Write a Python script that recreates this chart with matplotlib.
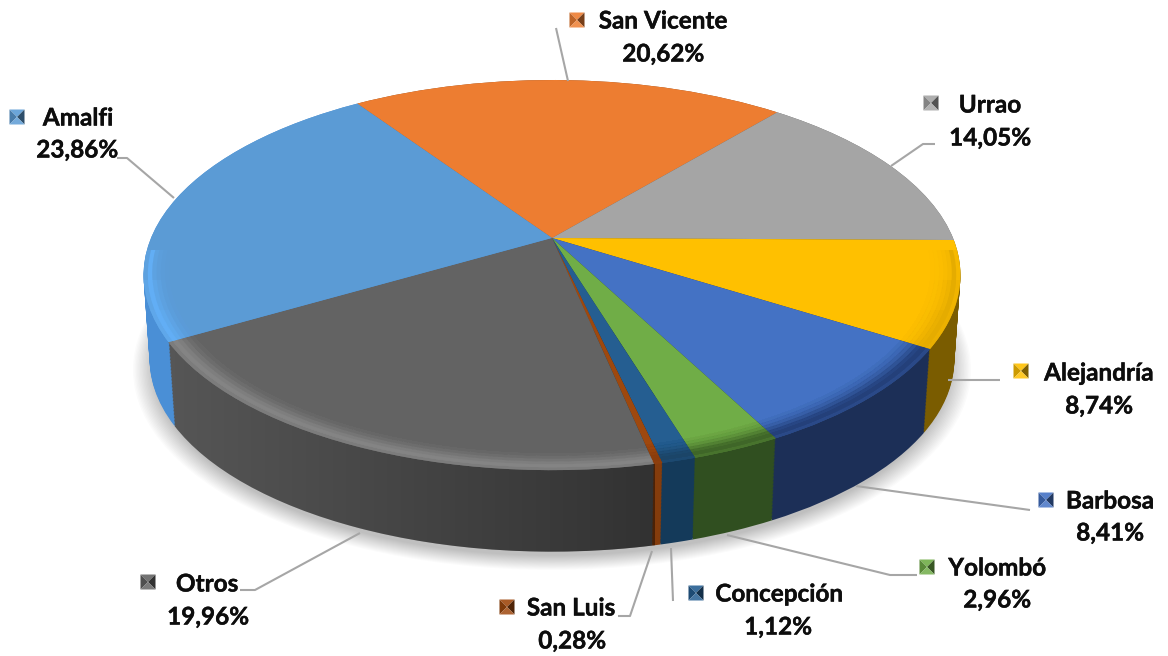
import matplotlib
matplotlib.use('Agg')
import matplotlib.pyplot as plt
import matplotlib.patheffects as pe
from matplotlib.patches import Circle, Polygon
from matplotlib.transforms import Transform, Bbox
from matplotlib.colors import to_rgb
import numpy as np

# Data, clockwise from the top
names = ['San Vicente', 'Urrao', 'Alejandría', 'Barbosa', 'Yolombó',
         'Concepción', 'San Luis', 'Otros', 'Amalfi']
values = [20.62, 14.05, 8.74, 8.41, 2.96, 1.12, 0.28, 19.96, 23.86]
labels = ['20,62%', '14,05%', '8,74%', '8,41%', '2,96%', '1,12%', '0,28%', '19,96%', '23,86%']

face_colors = ['#ED7D31', '#A5A5A5', '#FFC000', '#4472C4', '#70AD47',
               '#255E91', '#9E480E', '#636363', '#5B9BD5']
side_colors = ['#8C4A1D', '#666666', '#7A5C00', '#1C2F57', '#304F20',
               '#143A5A', '#843C0C', '#565656', '#4A8FD6']
rim_colors = ['#F29A5C', '#8A8A8A', '#E5AC00', '#24407A', '#3F6628',
              '#1B4568', '#8A3D0C', '#848484', '#62AEF5']

# Name text centre, percent text centre, legend key centre
name_pos = [(663, 21), (990, 105), (1099, 373), (1110, 501), (997, 568),
            (779, 594), (571, 608), (207, 584), (78, 118)]
pct_pos = [(663, 54), (990, 138), (1099, 406), (1110, 533), (997, 600),
           (778, 627), (572, 641), (208, 617), (77, 150)]
key_pos = [(577, 20), (931, 103), (1021, 371), (1046, 500), (927, 567),
           (696, 593), (507, 607), (148, 582), (17, 117)]
leaders = [
    [(556, 28), (568, 81)],
    [(935, 144), (923, 144), (891, 166)],
    [(1000, 380), (948, 380)],
    [(1030, 510), (856, 486)],
    [(917, 575), (890, 575), (727, 535)],
    [(673, 601), (671, 548)],
    [(618, 616), (630, 616), (652, 551)],
    [(240, 590), (255, 590), (360, 533)],
    [(117, 158), (127, 158), (174, 198)],
]

START = 124.2


class Tilt(Transform):
    # unit disc to pixels, with a bit of perspective
    input_dims = 2
    output_dims = 2

    def __init__(self, cy=238.0, s=1.0):
        super().__init__()
        self.cy = cy
        self.s = s

    def transform_non_affine(self, xy):
        xy = np.asarray(xy, dtype=float)
        w = 1 + 0.19 * xy[:, 1]
        return np.column_stack([552 + 401 * self.s * xy[:, 0] / w,
                                self.cy - 188 * self.s * xy[:, 1] / w])


def mix(c1, c2, t):
    return tuple((1 - t) * a + t * b for a, b in zip(to_rgb(c1), to_rgb(c2)))


plt.rcParams['font.family'] = ['Lato', 'DejaVu Sans']

fig = plt.figure(figsize=(11.68, 6.56), dpi=100)
ax = fig.add_axes([0, 0, 1, 1])


def draw_pie(colors, tilt, radius, z, **props):
    wedges, _ = ax.pie(values, colors=colors, startangle=START, counterclock=False,
                       radius=radius, wedgeprops={'linewidth': 0, **props})
    for w in wedges:
        w.set_transform(tilt + ax.transData)
        w.set_zorder(z)
    return wedges


# soft shadow under the disc
for grow in np.linspace(1.04, 0.99, 16):
    ax.add_patch(Circle((0, 0), grow, transform=Tilt(238 + 92, 0.985) + ax.transData,
                        fc='black', ec='none', alpha=0.016, zorder=1))

# side wall: stacked copies going up
n_layers = 60
for i in range(n_layers):
    t = 1 - i / (n_layers - 1)
    draw_pie(side_colors, Tilt(238 + 85 * t, 1 - 0.015 * t), 1.0, 2 + i * 0.001)

# darkening along the Otros wall, from its left end to its right end
tilt_top = Tilt()
cum = np.cumsum(values) / sum(values) * 360
edge_angles = np.radians([START - cum[7], START - cum[6]])
edge_pts = tilt_top.transform_non_affine(np.column_stack([np.cos(edge_angles), np.sin(edge_angles)]))
bottom = Circle((0, 0), 1.0, transform=Tilt(323, 0.985) + ax.transData, fc='none', ec='none')
ax.add_patch(bottom)
grad = np.zeros((1, 256, 4))
grad[0, :, 3] = np.linspace(0.0, 0.42, 256)
im = ax.imshow(grad, extent=(edge_pts[0, 0], edge_pts[1, 0], 560, 330), aspect='auto', zorder=3)
im.set_clip_path(bottom)

# top face
draw_pie(face_colors, tilt_top, 1.0, 4)

# bevel band, only toward the front, fades in going down the picture
band_r = [1.0, 0.99, 0.98, 0.97, 0.96, 0.95, 0.94]
band_k = [0.8, 1.0, 0.85, 0.6, 0.35, 0.18, 0.07]
cuts = [250, 280, 310, 340]
for j, (r, k) in enumerate(zip(band_r, band_k)):
    a = 1 - (1 - k) ** (1 / len(cuts))
    for n, cut in enumerate(cuts):
        for w in draw_pie(rim_colors, tilt_top, r, 4.1 + j * 0.01 + n * 0.001, width=0.0105, alpha=a):
            # pie turns clipping off; axes fill the figure, so display y is flipped picture y
            w.set_clip_on(True)
            w.set_clip_box(Bbox([[0, 0], [1168, 656 - cut]]))

# leader lines
for pts in leaders:
    p = np.array(pts)
    ax.plot(p[:, 0], p[:, 1], color='#A6A6A6', lw=1.5, zorder=6, solid_capstyle='butt')

# labels
stroke = [pe.withStroke(linewidth=0.3, foreground='#0D0D0D')]
for name, pct, np_, pp in zip(names, labels, name_pos, pct_pos):
    ax.text(np_[0], np_[1], name, ha='center', va='center', fontsize=17.5, fontweight='bold',
            color='#0D0D0D', zorder=7, path_effects=stroke)
    ax.text(pp[0], pp[1], pct, ha='center', va='center', fontsize=17.5, fontweight='bold',
            color='#0D0D0D', zorder=7, path_effects=stroke)

# legend keys, little pyramids
h = 7.5
for (cx, cy), f in zip(key_pos, face_colors):
    tl, tr, br, bl = (cx - h, cy - h), (cx + h, cy - h), (cx + h, cy + h), (cx - h, cy + h)
    c = (cx, cy)
    ax.add_patch(Polygon([tl, tr, c], fc=mix(f, 'white', 0.1), ec='none', zorder=7))
    ax.add_patch(Polygon([tl, bl, c], fc=mix(f, 'black', 0.2), ec='none', zorder=7))
    ax.add_patch(Polygon([tr, br, c], fc=mix(f, 'black', 0.5), ec='none', zorder=7))
    ax.add_patch(Polygon([bl, br, c], fc=mix(f, 'white', 0.15), ec='none', zorder=7))

ax.set_aspect('auto')
ax.set_xlim(0, 1168)
ax.set_ylim(656, 0)
ax.axis('off')

fig.savefig('out.png', dpi=100, facecolor='white')
